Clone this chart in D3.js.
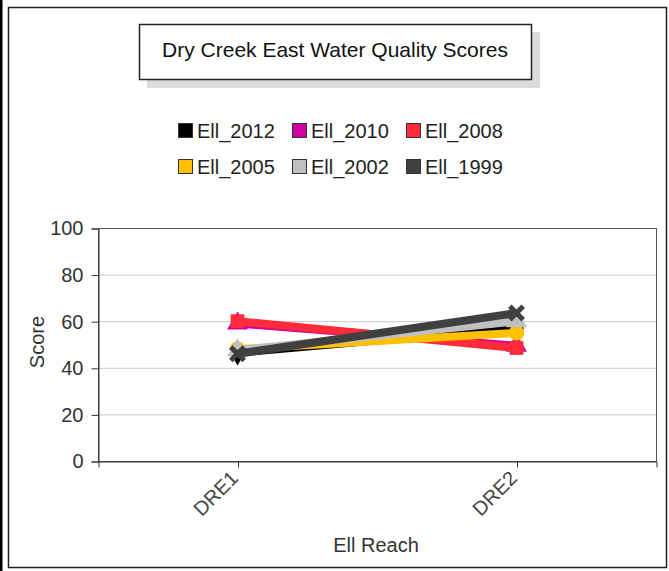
<!DOCTYPE html>
<html>
<head>
<meta charset="utf-8">
<script src="https://cdn.jsdelivr.net/npm/d3@7"></script>
<style>
  body { margin: 0; background: #fff; }
  svg { display: block; font-family: "Liberation Sans", Arial, sans-serif; }
</style>
</head>
<body>
<div id="chart"></div>
<script>
// Datos del gráfico
const reaches = ["DRE1", "DRE2"];
const seriesNames = ["Ell_2012", "Ell_2010", "Ell_2008", "Ell_2005", "Ell_2002", "Ell_1999"];
const seriesColors = ["#000000", "#d000a0", "#ff2a3a", "#ffc000", "#c0c0c0", "#404040"];
const seriesSymbols = ["diamond", "triangle", "square", "circle", "triangle", "cross"];
const score2012 = [46.5, 57];
const score2010 = [59, 49.5];
const score2008 = [60, 48.5];
const score2005 = [48, 55];
const score2002 = [47.5, 60];
const score1999 = [46, 63.5];
const seriesValues = [score2012, score2010, score2008, score2005, score2002, score1999];
const yTicks = [0, 20, 40, 60, 80, 100];

const width = 669, height = 571;
const plot = { left: 98, right: 656, top: 228, bottom: 461 };
const fontFamily = "Liberation Sans, Arial, sans-serif";

const svg = d3.select("#chart").append("svg")
    .attr("width", width)
    .attr("height", height);

// Marco exterior
svg.append("rect").attr("x", 0).attr("y", 0).attr("width", 2.5).attr("height", height).attr("fill", "#000");
svg.append("rect")
    .attr("x", 8.5).attr("y", 7.5)
    .attr("width", 658).attr("height", 560)
    .attr("fill", "#fff").attr("stroke", "#222").attr("stroke-width", 1.5);

// Título con sombra
svg.append("rect").attr("x", 147).attr("y", 32).attr("width", 393).attr("height", 56).attr("fill", "#dcdcdc");
svg.append("rect")
    .attr("x", 139.5).attr("y", 24.5).attr("width", 392).attr("height", 55)
    .attr("fill", "#fff").attr("stroke", "#222").attr("stroke-width", 1.5);
svg.append("text")
    .attr("x", 335).attr("y", 57)
    .attr("text-anchor", "middle")
    .attr("font-size", 21)
    .attr("fill", "#111")
    .text("Dry Creek East Water Quality Scores");

// Leyenda
const legend = svg.append("g");
seriesNames.forEach((name, i) => {
    const col = i % 3, row = Math.floor(i / 3);
    const gx = 178 + col * 114, gy = 123 + row * 36;
    legend.append("rect")
        .attr("x", gx + 0.5).attr("y", gy + 0.5).attr("width", 14).attr("height", 14)
        .attr("fill", seriesColors[i]).attr("stroke", "#333");
    legend.append("text")
        .attr("x", gx + 19).attr("y", gy + 15)
        .attr("font-size", 20).attr("fill", "#222")
        .text(name);
});

// Escalas
const x = d3.scalePoint().domain(reaches).range([plot.left, plot.right]).padding(0.5);
const y = d3.scaleLinear().domain([0, 100]).range([plot.bottom, plot.top]);

// Líneas de cuadrícula
svg.append("g")
    .selectAll("line")
    .data(yTicks.filter(t => t > 0 && t < 100))
    .enter().append("line")
    .attr("x1", plot.left).attr("x2", plot.right)
    .attr("y1", d => y(d) + 0.5).attr("y2", d => y(d) + 0.5)
    .attr("stroke", "#c8c8c8").attr("stroke-width", 1);

// Caja del área de trazado
svg.append("rect")
    .attr("x", plot.left + 0.5).attr("y", plot.top + 0.5)
    .attr("width", plot.right - plot.left).attr("height", plot.bottom - plot.top)
    .attr("fill", "none").attr("stroke", "#555").attr("stroke-width", 1);

// Eje Y
const yAxis = svg.append("g")
    .attr("transform", `translate(${plot.left + 0.5},0.5)`)
    .call(d3.axisLeft(y).tickValues(yTicks).tickSize(7).tickPadding(8));
yAxis.select(".domain").attr("stroke", "#333");
yAxis.selectAll(".tick line").attr("stroke", "#333");
yAxis.selectAll(".tick text").attr("font-size", 20).attr("fill", "#333")
    .attr("font-family", fontFamily);

// Eje X
const xAxis = svg.append("g")
    .attr("transform", `translate(0.5,${plot.bottom + 0.5})`)
    .call(d3.axisBottom(x).tickSize(6).tickPadding(4));
xAxis.select(".domain").attr("stroke", "#333");
xAxis.selectAll(".tick line").attr("stroke", "#333");
xAxis.selectAll(".tick text")
    .attr("font-size", 20).attr("fill", "#444")
    .attr("font-family", fontFamily)
    .attr("text-anchor", "end")
    .attr("dy", "0.35em")
    .attr("transform", "translate(-4,13) rotate(-45)")
    .attr("y", 0).attr("x", 0);

// Títulos de ejes
svg.append("text")
    .attr("x", 376).attr("y", 552)
    .attr("text-anchor", "middle").attr("font-size", 20).attr("fill", "#333")
    .text("Ell Reach");
svg.append("text")
    .attr("transform", "translate(44,342) rotate(-90)")
    .attr("text-anchor", "middle").attr("font-size", 20).attr("fill", "#333")
    .text("Score");

// Series
const line = d3.line().x((d, i) => x(reaches[i])).y(d => y(d));
const symbolTypes = {
    diamond: d3.symbolDiamond, triangle: d3.symbolTriangle, square: d3.symbolSquare,
    circle: d3.symbolCircle, cross: d3.symbolX
};
seriesValues.forEach((vals, i) => {
    const g = svg.append("g");
    g.append("path")
        .attr("d", line(vals))
        .attr("fill", "none")
        .attr("stroke", seriesColors[i])
        .attr("stroke-width", 8);
    const sym = seriesSymbols[i];
    g.selectAll("path.marker")
        .data(vals)
        .enter().append("path")
        .attr("class", "marker")
        .attr("transform", (d, j) => `translate(${x(reaches[j])},${y(d)})`)
        .attr("d", d3.symbol().type(symbolTypes[sym]).size(sym === "cross" ? 120 : 190))
        .attr("fill", seriesColors[i])
        .attr("stroke", seriesColors[i])
        .attr("stroke-width", sym === "cross" ? 5 : 0);
});
</script>
</body>
</html>
